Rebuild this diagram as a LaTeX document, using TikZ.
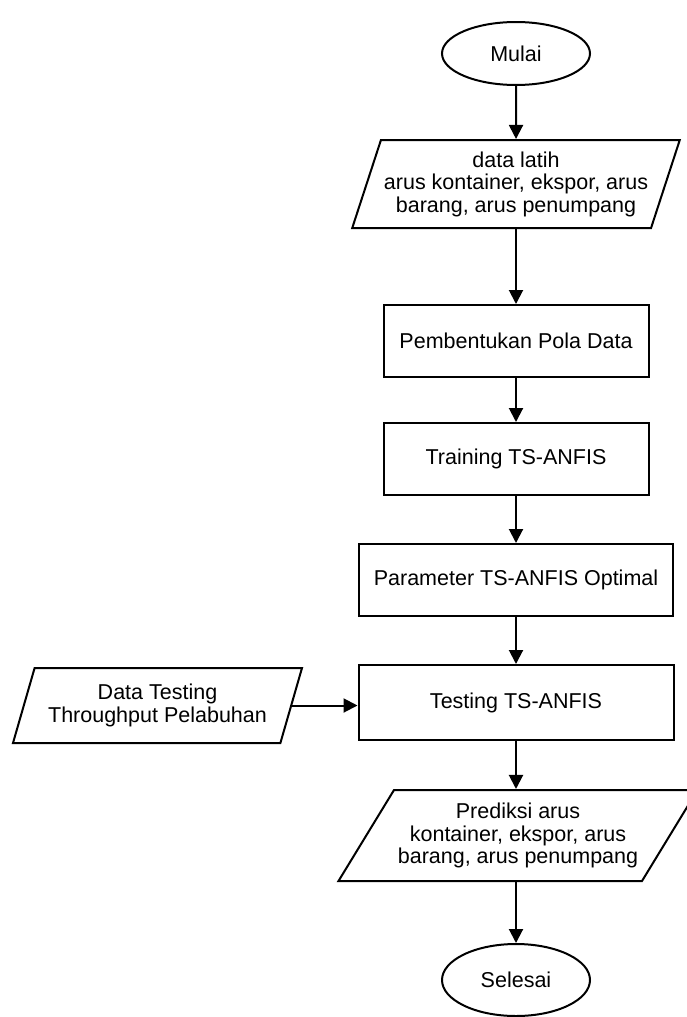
\documentclass[tikz,border=0pt]{standalone}
\usepackage{fontspec}
\setmainfont{Liberation Sans}
\usetikzlibrary{arrows.meta,positioning,shapes.geometric}

\begin{document}
\begin{tikzpicture}[x=1pt,y=-1pt,
  font=\fontsize{21.5}{22.5}\selectfont,
  terminal/.style={draw,line width=2pt,ellipse,minimum width=148pt,minimum height=63pt,inner sep=0pt},
  process/.style={draw,line width=2pt,rectangle,minimum height=72pt,inner sep=2pt},
  dataio/.style={draw,line width=2pt,trapezium,trapezium stretches body,inner sep=3pt,align=center},
  arr/.style={line width=2pt,-{Triangle[length=14pt,width=14pt]}}]
\fill[white] (0,0) rectangle (686,1017);
\useasboundingbox (0,0) rectangle (686,1017);

\node[terminal] (mulai) at (516,53.5) {Mulai};
\node[dataio,trapezium left angle=68,trapezium right angle=112,minimum width=325pt,minimum height=88pt] (latih) at (516,184)
  {data latih\\arus kontainer, ekspor, arus\\barang, arus penumpang};
\node[process,minimum width=265pt] (pola) at (516,341) {Pembentukan Pola Data};
\node[process,minimum width=265pt] (train) at (516,459) {Training TS-ANFIS};
\node[process,minimum width=314pt] (param) at (516,580) {Parameter TS-ANFIS Optimal};
\node[process,minimum width=315pt,minimum height=75pt] (test) at (516,702.5) {Testing TS-ANFIS};
\node[dataio,trapezium left angle=66,trapezium right angle=114,minimum width=289pt,minimum height=75pt] (dtest) at (157.5,705.5)
  {Data Testing\\Throughput Pelabuhan};
\node[dataio,trapezium left angle=52,trapezium right angle=128,minimum width=359pt,minimum height=91pt] (pred) at (518,835.5)
  {Prediksi arus\\kontainer, ekspor, arus\\barang, arus penumpang};
\node[terminal,minimum height=72pt] (selesai) at (516,980) {Selesai};

\draw[arr] (mulai) -- (latih);
\draw[arr] (latih) -- (pola);
\draw[arr] (pola) -- (train);
\draw[arr] (train) -- (param);
\draw[arr] (param) -- (test);
\draw[arr] (dtest.east) -- (dtest.east -| test.west);
\draw[arr] (test.south) -- (test.south |- pred.north);
\draw[arr] (pred.south -| selesai.north) -- (selesai);

\end{tikzpicture}
\end{document}
